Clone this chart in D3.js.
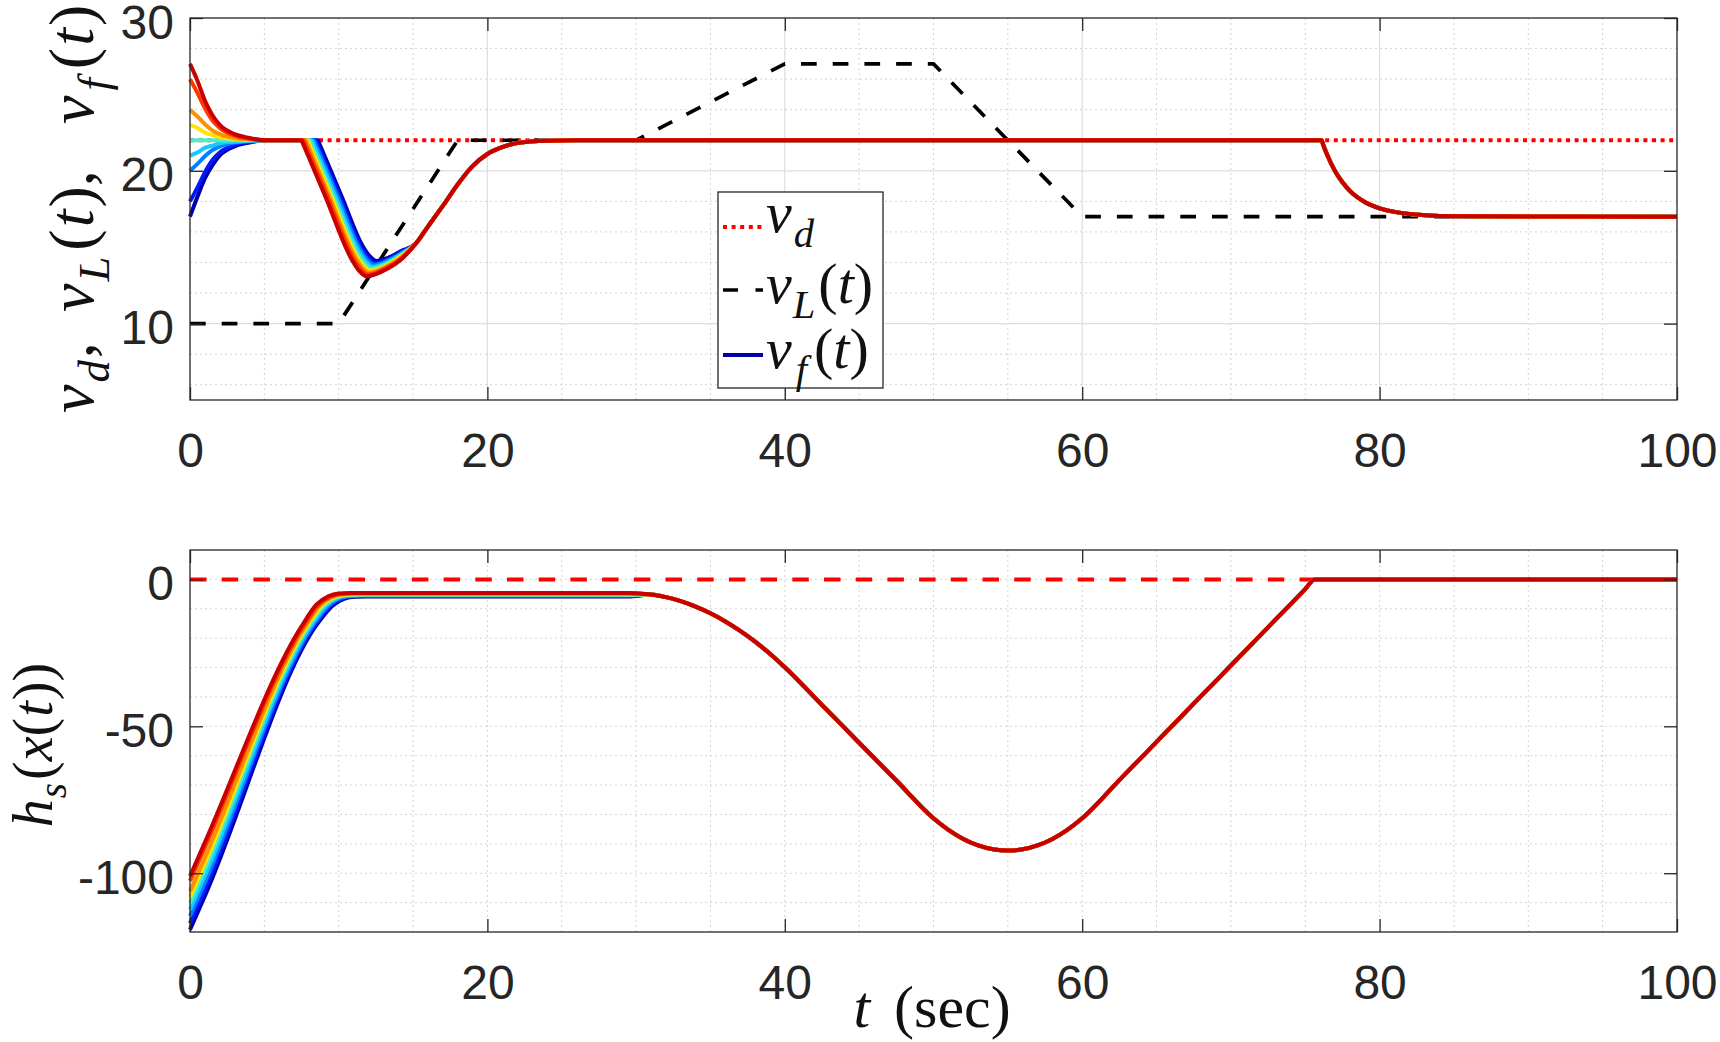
<!DOCTYPE html>
<html>
<head>
<meta charset="utf-8">
<script src="https://cdn.jsdelivr.net/npm/d3@7"></script>
<style>
  body { margin: 0; background: #fff; }
  svg { display: block; }
</style>
</head>
<body>
<svg id="chart" width="1720" height="1042"></svg>
<script>
// ---- data ----
const vDesired = 22;
const hLimit = 0;

// leader speed v_L(t)
const vLeader = [[0, 10], [10, 10], [18, 22], [30, 22], [40, 27], [50, 27], [60, 17], [100, 17]];

// follower colours, from the slowest start (blue) to the fastest (red)
const followerColors = ['#0000aa', '#0018ff', '#0080ff', '#18c8ff', '#48f0c8', '#ffe600', '#ff9000', '#ff3800', '#c80000'];

// follower speed v_f(t): first 14 s differ per follower, rest is shared
const vfHead = [
  [[0, 17], [0.5, 18.3], [1, 19.5], [1.5, 20.35], [2, 21.0], [3, 21.6], [4, 21.85], [5, 22], [8.60, 22], [8.70, 21.77], [10.20, 18.32], [11.60, 15.10], [12.05, 14.45], [12.55, 14.10], [13.3, 14.30], [14.2, 14.75]],
  [[0, 18], [0.5, 18.9], [1, 19.9], [1.5, 20.7], [2, 21.2], [3, 21.7], [4, 21.9], [5, 22], [8.46, 22], [8.56, 21.77], [10.06, 18.32], [11.52, 14.97], [11.97, 14.32], [12.47, 13.97], [13.3, 14.21], [14.2, 14.68]],
  [[0, 20], [0.5, 20.45], [1, 20.95], [1.5, 21.35], [2, 21.6], [3, 21.85], [4, 21.95], [5, 22], [8.33, 22], [8.43, 21.77], [9.93, 18.32], [11.44, 14.85], [11.89, 14.20], [12.39, 13.85], [13.3, 14.13], [14.2, 14.61]],
  [[0, 21], [0.5, 21.2], [1, 21.5], [1.5, 21.65], [2, 21.8], [3, 21.9], [4, 21.97], [5, 22], [8.19, 22], [8.29, 21.77], [9.79, 18.32], [11.36, 14.72], [11.81, 14.07], [12.31, 13.72], [13.3, 14.04], [14.2, 14.54]],
  [[0, 22], [5, 22], [8.05, 22], [8.15, 21.77], [9.65, 18.32], [11.27, 14.60], [11.72, 13.95], [12.22, 13.60], [13.3, 13.95], [14.2, 14.48]],
  [[0, 23], [0.5, 22.8], [1, 22.5], [1.5, 22.35], [2, 22.2], [3, 22.1], [4, 22.03], [5, 22], [7.91, 22], [8.01, 21.77], [9.51, 18.32], [11.18, 14.47], [11.63, 13.82], [12.13, 13.47], [13.3, 13.86], [14.2, 14.41]],
  [[0, 24], [0.5, 23.55], [1, 23.05], [1.5, 22.65], [2, 22.4], [3, 22.15], [4, 22.05], [5, 22], [7.78, 22], [7.88, 21.77], [9.38, 18.32], [11.11, 14.35], [11.56, 13.70], [12.06, 13.35], [13.3, 13.78], [14.2, 14.34]],
  [[0, 26], [0.5, 25.1], [1, 24.1], [1.5, 23.3], [2, 22.8], [3, 22.3], [4, 22.1], [5, 22], [7.64, 22], [7.74, 21.77], [9.24, 18.32], [11.02, 14.22], [11.47, 13.57], [11.97, 13.22], [13.3, 13.69], [14.2, 14.27]],
  [[0, 27], [0.5, 25.9], [1, 24.6], [1.5, 23.65], [2, 23.0], [3, 22.4], [4, 22.15], [5, 22], [7.50, 22], [7.60, 21.77], [9.10, 18.32], [10.93, 14.10], [11.38, 13.45], [11.88, 13.10], [13.3, 13.60], [14.2, 14.20]]
];
const vfTail = [[15.2, 15.25], [16, 16.35], [17, 17.7], [18, 19.1], [19, 20.3], [20, 21.1], [21, 21.55], [22, 21.82], [24, 21.97], [26, 22],
  [76.1, 22], [76.2, 21.72], [76.5, 20.98], [77, 19.99], [77.5, 19.25], [78, 18.69], [79, 17.96], [80, 17.54], [81, 17.31], [82, 17.17], [84, 17.05], [86, 17.02], [100, 17]];

// safety function h_s(x(t)): first 30 s differ per follower, rest is shared
const hsHead = [
  [[0, -119.2], [1, -107.7], [8.60, -14.9], [9.60, -8.9], [10.40, -6.5], [11.10, -5.9], [11.90, -5.8], [29.5, -5.8]],
  [[0, -117.0], [1, -105.5], [8.46, -15.04], [9.46, -8.86], [10.26, -6.41], [10.96, -5.76], [11.76, -5.65], [29.5, -5.65]],
  [[0, -114.6], [1, -103.1], [8.33, -15.18], [9.33, -8.83], [10.13, -6.33], [10.83, -5.63], [11.63, -5.5], [29.5, -5.5]],
  [[0, -112.4], [1, -100.9], [8.19, -15.31], [9.19, -8.79], [9.99, -6.24], [10.69, -5.49], [11.49, -5.35], [29.5, -5.35]],
  [[0, -110.2], [1, -98.7], [8.05, -15.45], [9.05, -8.75], [9.85, -6.15], [10.55, -5.35], [11.35, -5.2], [29.5, -5.2]],
  [[0, -108.1], [1, -96.6], [7.91, -15.59], [8.91, -8.71], [9.71, -6.06], [10.41, -5.21], [11.21, -5.05], [29.5, -5.05]],
  [[0, -106.2], [1, -94.7], [7.78, -15.73], [8.78, -8.68], [9.58, -5.98], [10.28, -5.08], [11.08, -4.9], [29.5, -4.9]],
  [[0, -102.6], [1, -91.1], [7.64, -15.86], [8.64, -8.64], [9.44, -5.89], [10.14, -4.94], [10.94, -4.75], [29.5, -4.75]],
  [[0, -101.0], [1, -89.5], [7.50, -16.0], [8.50, -8.6], [9.30, -5.8], [10.00, -4.8], [10.80, -4.6], [29.5, -4.6]]
];
const hsTail = [[31, -5.12], [32, -6.03], [33, -7.41], [34, -9.25], [35, -11.54], [36, -14.3], [37, -17.51], [38, -21.18], [39, -25.31], [40, -29.9],
  [42.5, -42.75], [45, -55.6], [47.5, -68.45], [50, -81.3], [51, -85.26], [52, -88.34], [53, -90.54], [54, -91.86], [55, -92.3],
  [56, -91.86], [57, -90.54], [58, -88.34], [59, -85.26], [60, -81.3], [62.5, -68.3], [65, -55.3], [67.5, -42.3], [70, -29.3],
  [72.5, -16.3], [75, -3.3], [75.63, 0], [100, 0]];

const xTicks = [0, 20, 40, 60, 80, 100];
const vTicks = [10, 20, 30];
const hTicks = [-100, -50, 0];

// ---- layout ----
const left = 190, right = 1677;
const svg = d3.select('#chart');
const axisColor = '#262626';
const tickFont = '"Liberation Sans", Arial, Helvetica, sans-serif';
const mathFont = '"Liberation Serif", "Times New Roman", serif';

const x = d3.scaleLinear().domain([0, 100]).range([left, right]);
const yTop = d3.scaleLinear().domain([5, 30]).range([400, 18]);
const yBot = d3.scaleLinear().domain([-120, 10]).range([932, 550]);

// draw grid for one panel
function drawFrame(y, yTicks, xMinor, yMinor, solidMajor) {
  const g = svg.append('g');
  const [y0, y1] = y.range();

  g.selectAll('.vminor').data(xMinor).enter().append('line')
    .attr('x1', d => x(d)).attr('x2', d => x(d)).attr('y1', y0).attr('y2', y1)
    .attr('stroke', '#d4d4d4').attr('stroke-width', 1).attr('stroke-dasharray', '2,3');
  g.selectAll('.hminor').data(yMinor).enter().append('line')
    .attr('x1', left).attr('x2', right).attr('y1', d => y(d)).attr('y2', d => y(d))
    .attr('stroke', '#d4d4d4').attr('stroke-width', 1).attr('stroke-dasharray', '2,3');

  if (solidMajor) {
    g.selectAll('.vmajor').data(xTicks.slice(1, -1)).enter().append('line')
      .attr('x1', d => x(d)).attr('x2', d => x(d)).attr('y1', y0).attr('y2', y1)
      .attr('stroke', '#dedede').attr('stroke-width', 1.2);
    g.selectAll('.hmajor').data(yTicks.filter(d => d > y.domain()[0] && d < y.domain()[1])).enter().append('line')
      .attr('x1', left).attr('x2', right).attr('y1', d => y(d)).attr('y2', d => y(d))
      .attr('stroke', '#dedede').attr('stroke-width', 1.2);
  }
  return g;
}

// ticks on all four sides plus the box
function drawAxes(y, yTicks) {
  const [y0, y1] = y.range();
  const g = svg.append('g');
  const plain = d => String(d);

  const bottom = g.append('g').attr('transform', `translate(0,${y0})`)
    .call(d3.axisBottom(x).tickValues(xTicks).tickFormat(plain).tickSizeInner(-13).tickSizeOuter(0).tickPadding(33));
  const top = g.append('g').attr('transform', `translate(0,${y1})`)
    .call(d3.axisTop(x).tickValues(xTicks).tickSizeInner(-13).tickSizeOuter(0).tickFormat(''));
  const leftAx = g.append('g').attr('transform', `translate(${left},0)`)
    .call(d3.axisLeft(y).tickValues(yTicks).tickFormat(plain).tickSizeInner(-13).tickSizeOuter(0).tickPadding(16));
  const rightAx = g.append('g').attr('transform', `translate(${right},0)`)
    .call(d3.axisRight(y).tickValues(yTicks).tickSizeInner(-13).tickSizeOuter(0).tickFormat(''));

  [bottom, top, leftAx, rightAx].forEach(a => {
    a.select('.domain').remove();
    a.selectAll('line').attr('stroke', axisColor).attr('stroke-width', 1.3);
    a.selectAll('text').attr('fill', axisColor).style('font-family', tickFont).style('font-size', '48px');
  });
  // labels sit a little below their tick, as in the figure
  leftAx.selectAll('text').attr('dy', '0.42em');

  g.append('rect')
    .attr('x', left).attr('y', y1).attr('width', right - left).attr('height', y0 - y1)
    .attr('fill', 'none').attr('stroke', axisColor).attr('stroke-width', 1.3);
}

// text with italic letters and lowered subscripts
function mathText(parent, parts, size) {
  const text = parent.append('text')
    .attr('font-family', mathFont).attr('font-size', size).attr('fill', '#111');
  let shift = 0;
  parts.forEach(p => {
    const ts = text.append('tspan').text(p.t);
    if (p.it) ts.attr('font-style', 'italic');
    const target = p.sub ? size * 0.25 : 0;
    if (target !== shift) { ts.attr('dy', target - shift); shift = target; }
    if (p.sub) ts.attr('font-size', size * 0.7);
    if (p.dx) ts.attr('dx', p.dx);
  });
  return text;
}

// ---- top panel: speeds ----
drawFrame(yTop, vTicks,
  d3.range(5, 100, 5).filter(d => d % 20 !== 0),
  d3.range(6, 30, 2).filter(d => d % 10 !== 0),
  true);

const lineTop = d3.line().x(d => x(d[0])).y(d => yTop(d[1])).curve(d3.curveMonotoneX);
const lineBot = d3.line().x(d => x(d[0])).y(d => yBot(d[1])).curve(d3.curveMonotoneX);

svg.append('path')
  .attr('d', lineTop([[0, vDesired], [100, vDesired]]))
  .attr('fill', 'none').attr('stroke', '#ff0000').attr('stroke-width', 4).attr('stroke-dasharray', '4,4.6');

svg.append('path')
  .attr('d', d3.line().x(d => x(d[0])).y(d => yTop(d[1]))(vLeader))
  .attr('fill', 'none').attr('stroke', '#000').attr('stroke-width', 3.7).attr('stroke-dasharray', '15.7,16');

svg.append('g').selectAll('path')
  .data(vfHead.map(h => h.concat(vfTail)))
  .enter().append('path')
  .attr('d', d => lineTop(d))
  .attr('fill', 'none')
  .attr('stroke', (d, i) => followerColors[i])
  .attr('stroke-width', 4)
  .attr('stroke-linejoin', 'round');

drawAxes(yTop, vTicks);

// legend
const legend = svg.append('g');
legend.append('rect').attr('x', 718).attr('y', 192).attr('width', 165).attr('height', 196)
  .attr('fill', '#fff').attr('stroke', axisColor).attr('stroke-width', 1.3);
legend.append('line').attr('x1', 723).attr('x2', 763).attr('y1', 227).attr('y2', 227)
  .attr('stroke', '#ff0000').attr('stroke-width', 4).attr('stroke-dasharray', '4,4.6');
legend.append('line').attr('x1', 723).attr('x2', 763).attr('y1', 290).attr('y2', 290)
  .attr('stroke', '#000').attr('stroke-width', 3.7).attr('stroke-dasharray', '15,17.5');
legend.append('line').attr('x1', 723).attr('x2', 763).attr('y1', 355).attr('y2', 355)
  .attr('stroke', followerColors[0]).attr('stroke-width', 4);
mathText(legend, [{ t: 'v', it: 1 }, { t: 'd', it: 1, sub: 1, dx: 2 }], 58).attr('x', 766).attr('y', 232);
mathText(legend, [{ t: 'v', it: 1 }, { t: 'L', it: 1, sub: 1, dx: 1 }, { t: '(', dx: 3 }, { t: 't', it: 1 }, { t: ')' }], 58).attr('x', 766).attr('y', 303);
mathText(legend, [{ t: 'v', it: 1 }, { t: 'f', it: 1, sub: 1, dx: 4 }, { t: '(', dx: 7 }, { t: 't', it: 1 }, { t: ')' }], 58).attr('x', 766).attr('y', 368);

// y label of top panel, three pieces running upward
const yLabTop = [
  { y: 413, parts: [{ t: 'v', it: 1 }, { t: 'd', it: 1, sub: 1, dx: 2 }, { t: ',', dx: 2 }] },
  { y: 312, parts: [{ t: 'v', it: 1 }, { t: 'L', it: 1, sub: 1, dx: 2 }, { t: '(', dx: 6 }, { t: 't', it: 1, dx: 2 }, { t: '),', dx: 2 }] },
  { y: 124, parts: [{ t: 'v', it: 1 }, { t: 'f', it: 1, sub: 1, dx: 5 }, { t: '(', dx: 9 }, { t: 't', it: 1, dx: 2 }, { t: ')', dx: 2 }] }
];
yLabTop.forEach(p => {
  const g = svg.append('g').attr('transform', `translate(93,${p.y}) rotate(-90)`);
  mathText(g, p.parts, 64);
});

// ---- bottom panel: safety function ----
drawFrame(yBot, hTicks,
  d3.range(5, 100, 5),
  d3.range(-110, 10, 10),
  false);

svg.append('path')
  .attr('d', lineBot([[0, hLimit], [100, hLimit]]))
  .attr('fill', 'none').attr('stroke', '#ff0000').attr('stroke-width', 4).attr('stroke-dasharray', '16.5,15.2');

svg.append('g').selectAll('path')
  .data(hsHead.map(h => h.concat(hsTail)))
  .enter().append('path')
  .attr('d', d => lineBot(d))
  .attr('fill', 'none')
  .attr('stroke', (d, i) => followerColors[i])
  .attr('stroke-width', 4)
  .attr('stroke-linejoin', 'round');

drawAxes(yBot, hTicks);

const yLabBot = svg.append('g').attr('transform', 'translate(52,745) rotate(-90)');
mathText(yLabBot, [{ t: 'h', it: 1 }, { t: 's', it: 1, sub: 1, dx: 1 }, { t: '(', dx: 3 }, { t: 'x', it: 1 }, { t: '(' }, { t: 't', it: 1, dx: 1 }, { t: '))', dx: 1 }], 56)
  .attr('text-anchor', 'middle');

mathText(svg, [{ t: 't', it: 1 }, { t: '(sec)', dx: 24 }], 60)
  .attr('x', 932).attr('y', 1027).attr('text-anchor', 'middle');
</script>
</body>
</html>
